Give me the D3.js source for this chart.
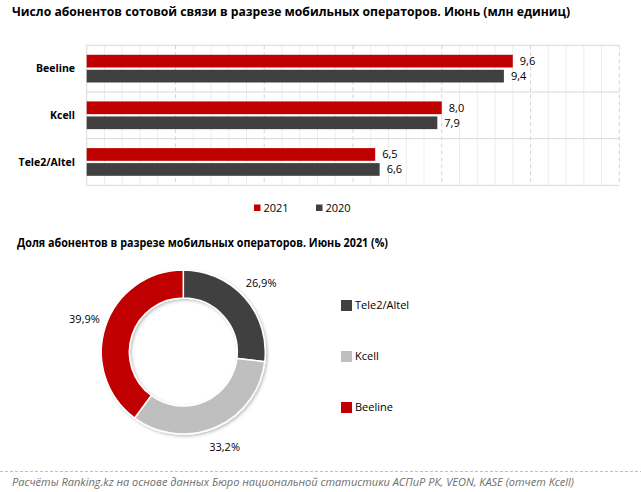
<!DOCTYPE html>
<html><head><meta charset="utf-8">
<script src="https://cdn.jsdelivr.net/npm/d3@7"></script>
<style>
body{margin:0;background:#fff;}
svg{display:block;font-family:"Open Sans",sans-serif;}
</style></head>
<body>
<svg id="c" width="641" height="492"></svg>
<script>
// ---- data ----
const categories = ["Beeline", "Kcell", "Tele2/Altel"];
const seriesNames = ["2021", "2020"];
const values2021 = [9.6, 8.0, 6.5];
const values2020 = [9.4, 7.9, 6.6];
const valueLabels2021 = ["9,6", "8,0", "6,5"];
const valueLabels2020 = ["9,4", "7,9", "6,6"];
const xMax = 12;
const shareNames = ["Tele2/Altel", "Kcell", "Beeline"];
const shareValues = [26.9, 33.2, 39.9];
const shareLabels = ["26,9%", "33,2%", "39,9%"];
const title1 = "Число абонентов сотовой связи в разрезе мобильных операторов. Июнь (млн единиц)";
const title2 = "Доля абонентов в разрезе мобильных операторов. Июнь 2021 (%)";
const footer = "Расчёты Ranking.kz на основе данных Бюро национальной статистики АСПиР РК, VEON, KASE (отчет Kcell)";

// ---- style ----
const seriesColors = ["#c00000", "#404040"];
const shareColors = ["#404040", "#bfbfbf", "#c00000"];

const svg = d3.select("#c");

// titles
svg.append("text").attr("x", 12).attr("y", 16)
  .attr("font-size", 13).attr("font-weight", "bold").attr("fill", "#000")
  .attr("textLength", 558).attr("lengthAdjust", "spacingAndGlyphs").text(title1);
svg.append("text").attr("x", 17).attr("y", 247)
  .attr("font-size", 12.5).attr("font-weight", "bold").attr("fill", "#000")
  .attr("textLength", 371).attr("lengthAdjust", "spacingAndGlyphs").text(title2);

// ---- bar chart ----
const L = 86.7, R = 619.3, T = 45.3, B = 185.3;
const x = d3.scaleLinear().domain([0, xMax]).range([L, R]);
const y = d3.scaleBand().domain(categories).range([T, B]).padding(0);
const yi = d3.scaleBand().domain(seriesNames).range([0, y.bandwidth()])
  .paddingInner(0.153).paddingOuter(0.632);

const g = svg.append("g");
// minor grid
g.selectAll("line.minor").data(d3.range(0, xMax + 0.001, 0.4).filter((d, i) => i % 5 !== 0))
  .join("line").attr("class", "minor")
  .attr("x1", d => x(d)).attr("x2", d => x(d)).attr("y1", T).attr("y2", B)
  .attr("stroke", "#ededed").attr("stroke-width", 1);
// major dashed grid
g.selectAll("line.major").data(d3.range(2, xMax + 0.001, 2))
  .join("line").attr("class", "major")
  .attr("x1", d => x(d)).attr("x2", d => x(d)).attr("y1", T).attr("y2", B)
  .attr("stroke", "#d4d4d4").attr("stroke-width", 1).attr("stroke-dasharray", "4,3");
// horizontal separators + top/bottom
g.selectAll("line.h").data([T, ...categories.slice(1).map(c => y(c)), B])
  .join("line").attr("class", "h")
  .attr("x1", L).attr("x2", R).attr("y1", d => d).attr("y2", d => d)
  .attr("stroke", "#d9d9d9").attr("stroke-width", 1);
// left axis line
g.append("line").attr("x1", L).attr("x2", L).attr("y1", T).attr("y2", B)
  .attr("stroke", "#d9d9d9").attr("stroke-width", 1);

const rows = [];
categories.forEach((c, i) => {
  rows.push({cat: c, s: "2021", v: values2021[i], lbl: valueLabels2021[i], col: seriesColors[0]});
  rows.push({cat: c, s: "2020", v: values2020[i], lbl: valueLabels2020[i], col: seriesColors[1]});
});
g.selectAll("rect.bar").data(rows).join("rect").attr("class", "bar")
  .attr("x", x(0)).attr("y", d => y(d.cat) + yi(d.s))
  .attr("width", d => x(d.v) - x(0)).attr("height", yi.bandwidth())
  .attr("fill", d => d.col);
g.selectAll("text.val").data(rows).join("text").attr("class", "val")
  .attr("x", d => x(d.v) + 7).attr("y", d => y(d.cat) + yi(d.s) + yi.bandwidth() / 2)
  .attr("dy", "0.35em").attr("font-size", 11).attr("fill", "#000").text(d => d.lbl);
// category labels
g.selectAll("text.cat").data(categories).join("text").attr("class", "cat")
  .attr("x", 75).attr("y", d => y(d) + y.bandwidth() / 2)
  .attr("dy", "0.35em").attr("text-anchor", "end")
  .attr("font-size", 10.5).attr("font-weight", "bold").attr("fill", "#000").text(d => d);

// legend
const lg = svg.append("g");
const legX = [254, 316];
seriesNames.forEach((s, i) => {
  lg.append("rect").attr("x", legX[i]).attr("y", 204.5).attr("width", 6.5).attr("height", 6.5).attr("fill", seriesColors[i]);
  lg.append("text").attr("x", legX[i] + 9.5).attr("y", 212).attr("font-size", 11).attr("fill", "#000").text(s);
});

// ---- donut ----
const cx = 183.3, cy = 352, rO = 82, rI = 54;
const defs = svg.append("defs");
const f = defs.append("filter").attr("id", "sh").attr("x", "-20%").attr("y", "-20%").attr("width", "140%").attr("height", "140%");
f.append("feDropShadow").attr("dx", 1.5).attr("dy", 1.5).attr("stdDeviation", 1.5).attr("flood-color", "#000").attr("flood-opacity", 0.25);

const pie = d3.pie().sort(null).value(d => d.v);
const arcs = pie(shareNames.map((n, i) => ({n, v: shareValues[i], lbl: shareLabels[i], col: shareColors[i]})));
const arc = d3.arc().innerRadius(rI).outerRadius(rO);
const labelArc = d3.arc().innerRadius(104).outerRadius(104);
const dg = svg.append("g").attr("transform", `translate(${cx},${cy})`);
dg.append("g").attr("filter", "url(#sh)").selectAll("path").data(arcs).join("path")
  .attr("d", arc).attr("fill", d => d.data.col).attr("stroke", "#fff").attr("stroke-width", 1.5);
dg.selectAll("text").data(arcs).join("text")
  .attr("transform", d => `translate(${labelArc.centroid(d)})`)
  .attr("text-anchor", "middle").attr("dy", "0.35em")
  .attr("font-size", 11).attr("fill", "#000").text(d => d.data.lbl);

// donut legend
const dl = svg.append("g");
const dlY = d3.scalePoint().domain(shareNames).range([300, 402]);
dl.selectAll("rect").data(shareNames).join("rect")
  .attr("x", 341).attr("y", d => dlY(d)).attr("width", 11).attr("height", 11)
  .attr("fill", (d, i) => shareColors[i]);
dl.selectAll("text").data(shareNames).join("text")
  .attr("x", 355).attr("y", d => dlY(d) + 5.5).attr("dy", "0.35em")
  .attr("font-size", 11).attr("fill", "#000").text(d => d);

// footer
svg.append("line").attr("x1", 0).attr("x2", 641).attr("y1", 471.5).attr("y2", 471.5)
  .attr("stroke", "#bfbfbf").attr("stroke-width", 1).attr("stroke-dasharray", "3,2");
svg.append("text").attr("x", 12).attr("y", 486).attr("font-size", 10.5).attr("font-style", "italic")
  .attr("fill", "#6e6e6e").attr("textLength", 562).attr("lengthAdjust", "spacingAndGlyphs").text(footer);
</script>
</body></html>
